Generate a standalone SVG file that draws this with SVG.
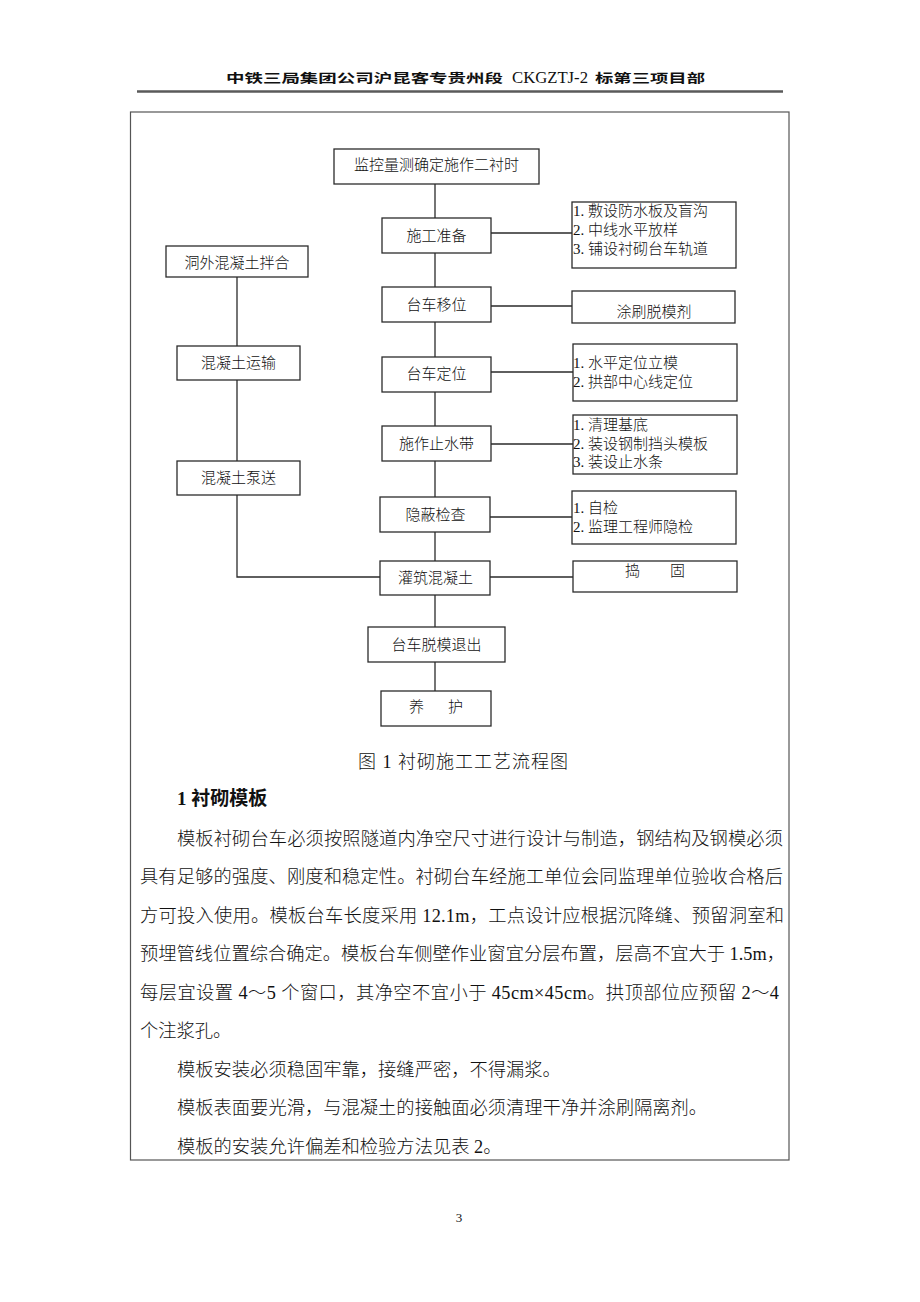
<svg xmlns="http://www.w3.org/2000/svg" width="920" height="1302" viewBox="0 0 920 1302">
<style>
.bg{fill:#ffffff}
.box{fill:#ffffff;stroke:#2b2b2b;stroke-width:1.3}
.conn{stroke:#2b2b2b;stroke-width:1.3;fill:none}
.t{font-family:"Liberation Serif","Noto Sans CJK SC",serif;font-size:15px;font-weight:300;fill:#111}
.m{text-anchor:middle}
.body{font-family:"Liberation Serif","Noto Sans CJK SC",serif;font-size:18.3px;font-weight:300;fill:#111}
</style>
<rect class="bg" x="0" y="0" width="920" height="1302"/>
<g id="header">
<text y="83" style="font-family:'Noto Sans CJK SC',sans-serif;font-size:12.5px;font-weight:700;fill:#111"><tspan x="226" textLength="277" lengthAdjust="spacingAndGlyphs">中铁三局集团公司沪昆客专贵州段</tspan><tspan x="512" textLength="76" lengthAdjust="spacingAndGlyphs" style="font-family:'Liberation Serif',serif;font-size:17px;font-weight:400">CKGZTJ-2</tspan><tspan x="595" textLength="110" lengthAdjust="spacingAndGlyphs">标第三项目部</tspan></text>
<line x1="137" y1="91.5" x2="783" y2="91.5" stroke="#5a5a5a" stroke-width="2.5"/>
</g>
<rect id="frame" x="130.5" y="112" width="658.5" height="1048" fill="none" stroke="#555" stroke-width="1.2"/>
<g id="connectors">
<path class="conn" d="M435 184V218M435 253V287M435 322V357M435 392V426M435 461V497M435 532V561M435 595V627M435 662V691"/>
<path class="conn" d="M491 233H572M491 306H572M491 372H573M491 444H573M490 517H572M490 577H573"/>
<path class="conn" d="M237 277V346M237 380V461M237 495V577H380"/>
</g>
<g id="n_monitor"><rect class="box" x="334" y="149" width="205" height="35"/><text class="t m" x="436.5" y="170">监控量测确定施作二衬时</text></g>
<g id="n_prep"><rect class="box" x="382" y="218" width="109" height="35"/><text class="t m" x="436.5" y="241">施工准备</text></g>
<g id="n_prep_note"><rect class="box" x="572" y="202" width="164" height="66"/><text class="t" x="573" y="216">1. 敷设防水板及盲沟</text><text class="t" x="573" y="235">2. 中线水平放样</text><text class="t" x="573" y="254">3. 铺设衬砌台车轨道</text></g>
<g id="n_move"><rect class="box" x="382" y="287" width="109" height="35"/><text class="t m" x="436.5" y="310">台车移位</text></g>
<g id="n_release"><rect class="box" x="572" y="291" width="163" height="32"/><text class="t m" x="654" y="317">涂刷脱模剂</text></g>
<g id="n_locate"><rect class="box" x="382" y="357" width="109" height="35"/><text class="t m" x="436.5" y="379">台车定位</text></g>
<g id="n_locate_note"><rect class="box" x="573" y="344" width="164" height="57"/><text class="t" x="573" y="368">1. 水平定位立模</text><text class="t" x="573" y="387">2. 拱部中心线定位</text></g>
<g id="n_waterstop"><rect class="box" x="382" y="426" width="109" height="35"/><text class="t m" x="436.5" y="449">施作止水带</text></g>
<g id="n_waterstop_note"><rect class="box" x="573" y="415" width="164" height="59"/><text class="t" x="573" y="430">1. 清理基底</text><text class="t" x="573" y="449">2. 装设钢制挡头模板</text><text class="t" x="573" y="467">3. 装设止水条</text></g>
<g id="n_inspect"><rect class="box" x="380" y="497" width="110" height="35"/><text class="t m" x="435.5" y="520">隐蔽检查</text></g>
<g id="n_inspect_note"><rect class="box" x="572" y="491" width="164" height="53"/><text class="t" x="573" y="513">1. 自检</text><text class="t" x="573" y="532">2. 监理工程师隐检</text></g>
<g id="n_pour"><rect class="box" x="380" y="561" width="110" height="34"/><text class="t m" x="435.5" y="583">灌筑混凝土</text></g>
<g id="n_tamp"><rect class="box" x="573" y="561" width="164" height="31"/><text class="t" x="625" y="576">捣　　固</text></g>
<g id="n_demould"><rect class="box" x="368" y="627" width="137" height="35"/><text class="t m" x="436.5" y="650">台车脱模退出</text></g>
<g id="n_cure"><rect class="box" x="381" y="691" width="110" height="35"/><text class="t" x="409" y="712" textLength="54" lengthAdjust="spacing">养　护</text></g>
<g id="n_mix"><rect class="box" x="166" y="246" width="142" height="31"/><text class="t m" x="237" y="268">洞外混凝土拌合</text></g>
<g id="n_transport"><rect class="box" x="177" y="346" width="123" height="34"/><text class="t m" x="238.5" y="368">混凝土运输</text></g>
<g id="n_pump"><rect class="box" x="177" y="461" width="123" height="34"/><text class="t m" x="238.5" y="483">混凝土泵送</text></g>
<g id="caption"><text class="body" x="358" y="768" style="font-size:18px" textLength="210" lengthAdjust="spacing">图 1 衬砌施工工艺流程图</text></g>
<g id="text">
<text class="body" x="177" y="805" style="font-size:19px;font-weight:700">1 衬砌模板</text>
<text class="body" x="177" y="845" textLength="606" lengthAdjust="spacing">模板衬砌台车必须按照隧道内净空尺寸进行设计与制造，钢结构及钢模必须</text>
<text class="body" x="140" y="883" textLength="643" lengthAdjust="spacing">具有足够的强度、刚度和稳定性。衬砌台车经施工单位会同监理单位验收合格后</text>
<text class="body" x="140" y="922" textLength="644" lengthAdjust="spacing">方可投入使用。模板台车长度采用 12.1m，工点设计应根据沉降缝、预留洞室和</text>
<text class="body" x="140" y="960" textLength="645" lengthAdjust="spacing">预埋管线位置综合确定。模板台车侧壁作业窗宜分层布置，层高不宜大于 1.5m，</text>
<text class="body" x="140" y="999" textLength="639" lengthAdjust="spacing">每层宜设置 4～5 个窗口，其净空不宜小于 45cm×45cm。拱顶部位应预留 2～4</text>
<text class="body" x="140" y="1037">个注浆孔。</text>
<text class="body" x="177" y="1076">模板安装必须稳固牢靠，接缝严密，不得漏浆。</text>
<text class="body" x="177" y="1114">模板表面要光滑，与混凝土的接触面必须清理干净并涂刷隔离剂。</text>
<text class="body" x="177" y="1153">模板的安装允许偏差和检验方法见表 2。</text>
</g>
<g id="page"><text x="459" y="1222" style="font-family:'Liberation Serif',serif;font-size:13px;fill:#111;text-anchor:middle">3</text></g>
</svg>
